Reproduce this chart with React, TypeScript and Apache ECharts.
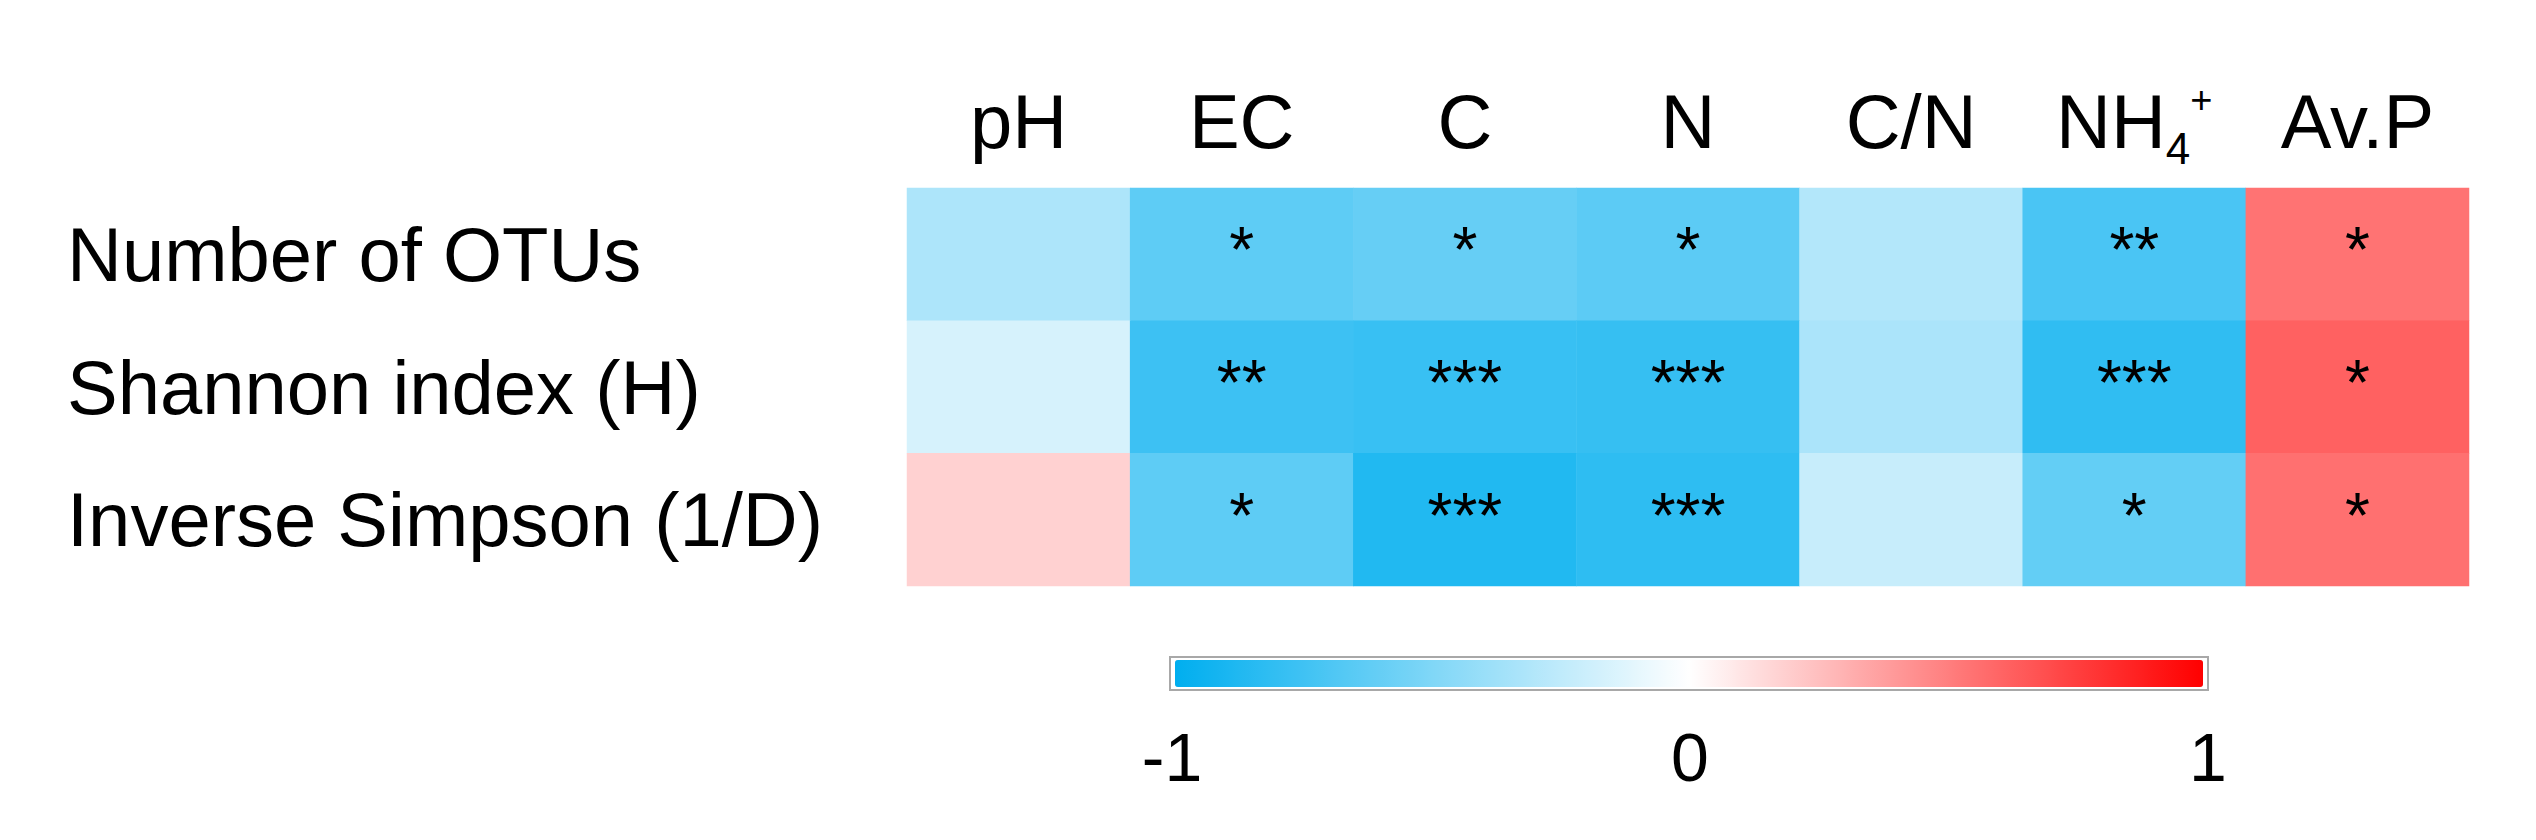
import React, { useEffect, useRef } from "react";
import * as echarts from "echarts";

const columns = ["pH", "EC", "C", "N", "C/N", "NH4+", "Av.P"];
const rows = ["Number of OTUs", "Shannon index (H)", "Inverse Simpson (1/D)"];

const otuValues = [-0.32, -0.63, -0.6, -0.64, -0.3, -0.71, 0.55];
const shannonValues = [-0.16, -0.76, -0.78, -0.79, -0.33, -0.81, 0.62];
const simpsonValues = [0.18, -0.63, -0.87, -0.82, -0.22, -0.61, 0.56];

const otuSig = ["", "*", "*", "*", "", "**", "*"];
const shannonSig = ["", "**", "***", "***", "", "***", "*"];
const simpsonSig = ["", "*", "***", "***", "", "*", "*"];

const scaleTicks = [-1, 0, 1];

const FONT = 'Arial, "Liberation Sans", sans-serif';

export default function App() {
  const ref = useRef<HTMLDivElement>(null);

  useEffect(() => {
    document.body.style.margin = "0";
    if (!ref.current) return;
    const chart = echarts.init(ref.current, null, { renderer: "svg" });

    const values = [otuValues, shannonValues, simpsonValues];
    const sigs = [otuSig, shannonSig, simpsonSig];
    const data: any[] = [];
    rows.forEach((_, yi) => {
      columns.forEach((_, xi) => {
        data.push([xi, yi, values[yi][xi], sigs[yi][xi]]);
      });
    });

    chart.setOption({
      animation: false,
      backgroundColor: "#ffffff",
      textStyle: { fontFamily: FONT },
      grid: [
        { left: 907, top: 188, width: 1562, height: 398, containLabel: false },
        { left: 1172, top: 700, width: 1036, height: 1, containLabel: false },
      ],
      xAxis: [
        {
          type: "category",
          gridIndex: 0,
          position: "top",
          data: columns,
          axisLine: { show: false },
          axisTick: { show: false },
          splitLine: { show: false },
          axisLabel: {
            fontSize: 76,
            lineHeight: 98,
            color: "#000",
            fontFamily: FONT,
            margin: 18,
            interval: 0,
            formatter: (v: string) =>
              v === "NH4+" ? "{m|NH}{sub|4}{sup|+}" : v,
            rich: {
              m: { fontSize: 76, lineHeight: 98, color: "#000", fontFamily: FONT },
              sub: {
                fontSize: 44,
                lineHeight: 44,
                verticalAlign: "bottom",
                color: "#000",
                fontFamily: FONT,
              },
              sup: {
                fontSize: 38,
                lineHeight: 38,
                verticalAlign: "top",
                padding: [9, 0, 0, 0],
                color: "#000",
                fontFamily: FONT,
              },
            },
          },
        },
        {
          type: "value",
          gridIndex: 1,
          min: -1,
          max: 1,
          interval: 1,
          axisLine: { show: false },
          axisTick: { show: false },
          splitLine: { show: false },
          axisLabel: {
            fontSize: 68,
            color: "#000",
            fontFamily: FONT,
            margin: 22,
          },
        },
      ],
      yAxis: [
        {
          type: "category",
          gridIndex: 0,
          inverse: true,
          data: rows,
          axisLine: { show: false },
          axisTick: { show: false },
          splitLine: { show: false },
          axisLabel: {
            fontSize: 76,
            color: "#000",
            fontFamily: FONT,
            align: "left",
            margin: 840,
          },
        },
        {
          type: "value",
          gridIndex: 1,
          show: false,
          min: 0,
          max: 1,
        },
      ],
      visualMap: {
        type: "continuous",
        seriesIndex: 0,
        dimension: 2,
        min: scaleTicks[0],
        max: scaleTicks[scaleTicks.length - 1],
        orient: "horizontal",
        left: 1169,
        top: 656,
        itemWidth: 27,
        itemHeight: 1028,
        calculable: false,
        hoverLink: false,
        text: null,
        padding: [3, 5],
        borderColor: "#a8a8a8",
        borderWidth: 2,
        inRange: { color: ["#00aeef", "#ffffff", "#ff0000"] },
      },
      series: [
        {
          type: "heatmap",
          xAxisIndex: 0,
          yAxisIndex: 0,
          data,
          itemStyle: { borderWidth: 0 },
          emphasis: { disabled: true },
          label: {
            show: true,
            formatter: (p: any) => p.data[3],
            fontSize: 64,
            color: "#000",
            fontFamily: FONT,
            offset: [0, -4],
          },
        },
      ],
    });

    return () => chart.dispose();
  }, []);

  return <div ref={ref} style={{ width: 2536, height: 840 }} />;
}
